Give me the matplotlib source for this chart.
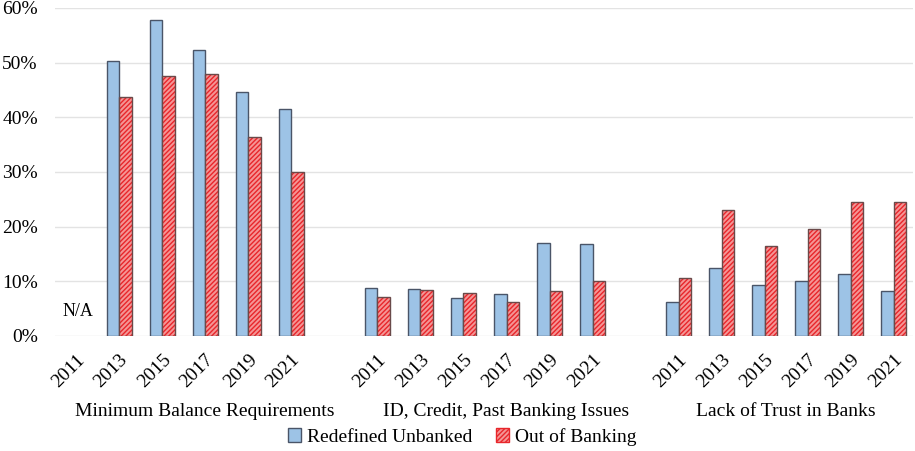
import matplotlib
matplotlib.use("Agg")
import matplotlib.pyplot as plt
import numpy as np
from matplotlib.patches import Patch

plt.rcParams['font.family'] = ['Liberation Serif', 'DejaVu Serif']
plt.rcParams['hatch.linewidth'] = 1.0

groups = ["Minimum Balance Requirements", "ID, Credit, Past Banking Issues", "Lack of Trust in Banks"]
years = ["2011", "2013", "2015", "2017", "2019", "2021"]
series_names = ["Redefined Unbanked", "Out of Banking"]

unbanked_min_balance = [np.nan, 50.3, 57.8, 52.3, 44.6, 41.5]
outbank_min_balance = [np.nan, 43.8, 47.6, 47.9, 36.4, 30.0]
unbanked_id_credit = [8.7, 8.6, 6.9, 7.7, 17.1, 16.9]
outbank_id_credit = [7.1, 8.4, 7.9, 6.2, 8.2, 10.1]
unbanked_trust = [6.2, 12.5, 9.3, 10.1, 11.3, 8.2]
outbank_trust = [10.6, 23.1, 16.5, 19.6, 24.5, 24.6]

blue_vals = [unbanked_min_balance, unbanked_id_credit, unbanked_trust]
red_vals = [outbank_min_balance, outbank_id_credit, outbank_trust]

fig = plt.figure(figsize=(9.15, 4.51), dpi=100)
ax = fig.add_axes([54.5/915, (451-336)/451, 858.8/915, 328/451])

blue_face = '#9DC3E6'
blue_edge = '#4A5568'
red_face = '#F59595'
red_hatch = '#E8262B'
red_edge = '#6A4A4A'

bw = 0.29
positions = []
for g in range(3):
    base = g * 7
    xs = np.arange(6) + base
    positions.append(xs)
    b = np.array(blue_vals[g]) / 100
    r = np.array(red_vals[g]) / 100
    ax.bar(xs - bw/2, b, width=bw, color=blue_face, edgecolor=blue_edge, linewidth=1.0, zorder=3)
    ax.bar(xs + bw/2, r, width=bw, color=red_face, edgecolor=red_hatch, hatch='///////', linewidth=0, zorder=3)
    ax.bar(xs + bw/2, r, width=bw, fill=False, edgecolor=red_edge, linewidth=1.0, zorder=4)

ax.set_xlim(-0.5, 19.45)
ax.set_ylim(0, 0.6)
yt = np.arange(0, 0.61, 0.1)
ax.set_yticks(yt)
ax.set_yticklabels([f"{int(round(v*100))}%" for v in yt], fontsize=14)
ax.yaxis.grid(True, color='#E3E3E3', linewidth=1.0, zorder=0)
for s in ax.spines.values():
    s.set_visible(False)
ax.tick_params(axis='y', length=0, pad=12)
ax.tick_params(axis='x', length=0, pad=11)

allx = np.concatenate(positions)
ax.set_xticks(allx)
ax.set_xticklabels(years * 3, rotation=45, ha='right', rotation_mode='anchor', fontsize=14)

ax.text(0.05, 0.045, "N/A", ha='center', va='center', fontsize=13)

centers = [3.0, 10.0, 16.5]
for g, c in enumerate(centers):
    ax.text(c, -(411-336)/328, groups[g], transform=ax.get_xaxis_transform(),
            ha='center', va='center', fontsize=14)

handles = [Patch(facecolor=blue_face, edgecolor=blue_edge, linewidth=1.0),
           Patch(facecolor=red_face, edgecolor=red_hatch, hatch='///////', linewidth=1.0)]
fig.legend(handles, series_names, loc='center', bbox_to_anchor=(0.505, 1 - 437/451), ncol=2,
           frameon=False, fontsize=14, handlelength=0.7, handleheight=0.7, handletextpad=0.3,
           columnspacing=1.2)

fig.savefig("out.png", dpi=100)
